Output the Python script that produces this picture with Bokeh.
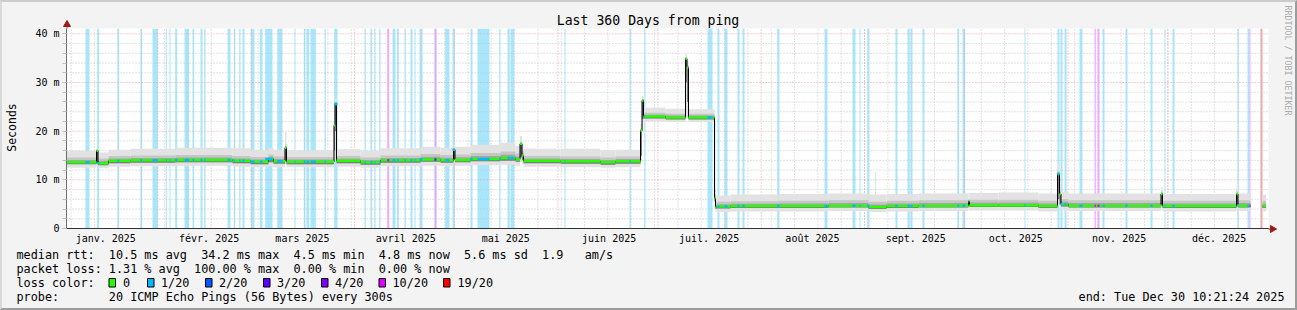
import numpy as np
from datetime import datetime, timedelta
from bokeh.plotting import figure
from bokeh.layouts import column
from bokeh.models import Range1d, FixedTicker, SingleIntervalTicker
from bokeh.core.properties import value
from bokeh.embed import file_html
from bokeh.resources import INLINE

# ---------------- data ----------------
END = datetime(2025, 12, 30, 10, 21, 24)
SPAN_DAYS = 360
START = END - timedelta(days=SPAN_DAYS)
GRAPH_TOP_MS = 41.1   # upper limit of the rrd graph area

# step segments of the median rtt (days since START), values in ms
seg_edge = [0.0, 9.15, 9.6, 12.75, 19.35, 32.85, 49.95, 55.35, 60.75, 62.25, 65.7, 66.15,
            80.4, 80.7, 81.15, 88.35, 94.35, 106.35, 112.35, 116.25, 116.7, 121.35, 130.35,
            134.85, 136.2, 136.8, 137.25, 148.35, 160.35, 164.85, 172.35, 172.8, 173.25,
            179.85, 185.85, 186.3, 186.75, 194.55, 194.85, 195.15, 199.35, 213.75, 228.75,
            240.75, 242.7, 243.0, 246.15, 255.75, 270.75, 271.05, 279.75, 291.75, 297.45,
            298.05, 298.5, 300.75, 328.5, 328.95, 351.15, 351.6, 355.35, 358.95, 360.0]
nan = float("nan")
median_ms = [13.6, 16.0, 13.4, 13.9, 14.0, 14.1, 13.9, 13.7, 14.3, 13.8, 16.6, 13.7,
             21.2, 25.6, 13.9, 13.6, 14.0, 14.2, 14.0, 16.2, 14.1, 14.3, 14.5, 14.2,
             17.4, 15.0, 13.9, 13.8, 13.6, 13.8, 20.1, 26.3, 23.0, 22.8, 34.9, 33.1,
             22.8, 6.2, 4.4, 4.5, 4.6, 4.6, 4.7, 4.4, 4.4, 4.4, 4.6, 4.7, 5.6, 4.8,
             4.8, 4.6, 11.2, 7.1, 5.0, 4.7, 7.1, 4.6, 7.1, 4.7, nan, 4.6]
smoke_lo_outer = [12.5, 12.8, 12.4, 12.7, 12.8, 12.9, 12.7, 12.6, 12.8, 12.6, 13.2, 12.6,
                  13.8, 14.0, 12.7, 12.5, 12.8, 12.9, 12.8, 13.4, 12.9, 13.0, 13.1, 12.9,
                  13.6, 13.2, 12.7, 12.6, 12.5, 12.6, 13.8, 20.0, 22.0, 21.9, 23.0, 22.8,
                  21.9, 4.8, 3.4, 3.4, 3.5, 3.5, 3.6, 3.4, 3.4, 3.4, 3.5, 3.6, 4.0, 3.7,
                  3.7, 3.5, 4.6, 4.5, 3.8, 3.6, 4.2, 3.5, 4.2, 3.6, nan, 3.5]
smoke_lo_inner = [13.2, 13.4, 13.0, 13.4, 13.5, 13.6, 13.4, 13.2, 13.6, 13.3, 14.0, 13.2,
                  16.0, 20.0, 13.4, 13.1, 13.5, 13.7, 13.5, 14.2, 13.6, 13.8, 13.9, 13.7,
                  14.6, 14.0, 13.4, 13.3, 13.1, 13.3, 15.0, 22.5, 22.6, 22.4, 30.0, 26.0,
                  22.4, 5.6, 4.0, 4.1, 4.2, 4.2, 4.3, 4.0, 4.0, 4.0, 4.2, 4.3, 4.8, 4.4,
                  4.4, 4.2, 6.0, 5.0, 4.5, 4.3, 5.0, 4.2, 5.0, 4.3, nan, 4.2]
smoke_hi_inner = [14.6, 16.0, 14.4, 14.9, 15.0, 15.1, 14.9, 14.7, 15.2, 14.8, 17.2, 14.7,
                  21.6, 26.0, 14.9, 14.6, 15.0, 15.3, 15.1, 16.6, 15.2, 15.5, 15.8, 15.4,
                  17.8, 16.0, 14.9, 14.8, 14.6, 14.8, 20.5, 26.6, 23.8, 23.6, 35.2, 33.6,
                  23.6, 8.0, 5.4, 5.5, 5.6, 5.7, 5.8, 5.5, 5.5, 5.5, 5.7, 5.8, 6.0, 5.9,
                  5.9, 5.7, 11.8, 7.8, 6.0, 5.8, 7.6, 5.7, 7.6, 5.8, nan, 5.7]
smoke_hi_outer = [16.0, 16.6, 15.6, 16.2, 16.4, 16.6, 16.5, 16.2, 16.6, 16.2, 19.8, 16.1,
                  22.4, 26.7, 16.3, 16.0, 16.5, 16.8, 16.6, 17.2, 16.8, 17.2, 17.6, 17.0,
                  19.0, 17.5, 16.4, 16.4, 16.1, 16.2, 21.5, 27.2, 24.8, 24.6, 35.9, 34.4,
                  24.5, 22.0, 6.6, 6.8, 7.0, 7.1, 7.2, 7.0, 11.6, 7.0, 7.1, 7.2, 7.4, 7.3,
                  7.4, 7.2, 13.4, 9.0, 7.5, 7.2, 8.5, 7.1, 8.3, 7.2, nan, 7.0]

# packet-loss periods (days since START) and their loss class
loss_start = [5.85, 9.36, 15.45, 22.35, 25.95, 29.94, 31.05, 32.76, 35.55, 37.95, 40.35, 41.46,
              48.45, 50.34, 51.96, 52.95, 55.44, 58.14, 59.76, 63.36, 68.55, 71.34, 72.15, 73.35,
              77.55, 80.46, 89.55, 91.35, 92.55, 93.96, 96.36, 97.95, 99.36, 101.55, 103.35,
              104.55, 106.05, 110.55, 113.76, 115.95, 121.35, 123.45, 129.96, 132.45, 133.35,
              149.55, 169.05, 173.46, 192.45, 195.45, 197.55, 201.45, 202.95, 213.36, 227.55,
              235.95, 238.05, 240.36, 248.85, 252.45, 253.35, 256.95, 267.45, 268.95, 287.55,
              297.45, 298.35, 299.55, 304.05, 308.55, 309.45, 310.95, 317.85, 325.35, 329.55,
              331.95, 351.45, 354.45, 355.05, 358.35]
loss_end = [7.05, 9.96, 15.96, 22.86, 27.54, 30.24, 31.35, 33.36, 36.96, 38.46, 40.95, 41.85,
            49.35, 50.76, 52.35, 53.55, 56.55, 58.95, 61.95, 64.95, 68.85, 71.85, 72.96, 74.94,
            77.94, 81.45, 89.94, 91.86, 92.85, 94.35, 96.96, 98.85, 99.84, 101.94, 103.95,
            104.85, 106.95, 111.15, 115.05, 116.64, 121.95, 127.05, 130.35, 133.14, 134.46,
            149.85, 169.44, 173.85, 193.95, 196.05, 198.45, 202.05, 203.55, 214.05, 228.45,
            236.85, 238.35, 241.05, 249.45, 253.14, 253.95, 257.55, 267.96, 269.76, 287.85,
            298.05, 298.95, 300.15, 304.95, 308.94, 310.05, 311.55, 318.45, 325.95, 329.85,
            332.55, 351.84, 355.05, 355.35, 358.95]
loss_cls = ["1/20"] * 30 + ["10/20"] + ["1/20"] * 6 + ["4/20"] + ["1/20"] * 31 + \
           ["10/20", "10/20"] + ["1/20"] * 6 + ["1/20", "10/20", "19/20"]

loss_names = ["0", "1/20", "2/20", "3/20", "4/20", "10/20", "19/20"]
loss_line_col = ["#26ff00", "#00b8ff", "#0059ff", "#5e00ff", "#7e00ff", "#dd00ff", "#ff0000"]
loss_bg_col = ["#c9ffbf", "#a8e6fb", "#aac6ff", "#c9aaff", "#d4aaff", "#f1a9ff", "#f6a3a3"]

month_names = ["janv. 2025", "févr. 2025", "mars 2025", "avril 2025", "mai 2025", "juin 2025",
               "juil. 2025", "août 2025", "sept. 2025", "oct. 2025", "nov. 2025", "déc. 2025"]
y_tick_vals = [0, 10, 20, 30, 40]
y_tick_text = ["0", "10 m", "20 m", "30 m", "40 m"]

title_text = "Last 360 Days from ping"
y_label = "Seconds"
watermark = "RRDTOOL / TOBI OETIKER"
stats_line1 = "median rtt:  10.5 ms avg  34.2 ms max  4.5 ms min  4.8 ms now  5.6 ms sd  1.9   am/s"
stats_line2 = "packet loss: 1.31 % avg  100.00 % max  0.00 % min  0.00 % now"
loss_line = "loss color:"
probe_line = "probe:       20 ICMP Echo Pings (56 Bytes) every 300s"
end_line = "end: Tue Dec 30 10:21:24 2025"

# ---------------- helpers ----------------
def day_of(dt):
    return (dt - START).total_seconds() / 86400.0

month_start = [day_of(datetime(2025, m, 1)) for m in range(1, 13)]
mondays = []
d = datetime(2025, 1, 6)
while d < END:
    mondays.append(day_of(d))
    d += timedelta(days=7)
label_pos = [ms + 15.37 for ms in month_start]

MONO = "DejaVu Sans Mono"
X0, X1 = 0.15, 360.75          # visible time span of the graph frame (days)

# ---------------- main chart ----------------
p = figure(width=1293, height=306, output_backend="svg", toolbar_location=None,
           x_range=Range1d(X0, X1), y_range=Range1d(0, GRAPH_TOP_MS),
           min_border_left=64, min_border_right=27, min_border_top=26, min_border_bottom=80)
p.frame_align = False
p.border_fill_color = "#f3f3f3"
p.background_fill_color = "white"
p.outline_line_color = None
p.xgrid.visible = False
p.ygrid.visible = False

# loss background bars
bg_map = dict(zip(loss_names, loss_bg_col))
ln_map = dict(zip(loss_names, loss_line_col))
r = p.quad(left=loss_start, right=loss_end, bottom=0, top=GRAPH_TOP_MS,
           fill_color=[bg_map[c] for c in loss_cls], line_color=None)
r.level = "underlay"

# grid lines (dotted, minor grey / major red)
GRAY = "#c4c4c4"
RED = "#eba0a0"
minor_y = [v for v in range(2, 42, 2) if v % 10 != 0]
major_y = [10, 20, 30, 40]
for ys, col in [(minor_y, GRAY), (major_y, RED)]:
    g = p.segment(x0=X0, x1=X1, y0=ys, y1=ys, line_color=col, line_dash="1 2", line_width=1)
    g.level = "underlay"
for xs, col in [(mondays, GRAY), (month_start[1:], RED)]:
    g = p.segment(x0=xs, x1=xs, y0=0, y1=GRAPH_TOP_MS, line_color=col, line_dash="1 2", line_width=1)
    g.level = "underlay"

# smoke
e = np.array(seg_edge)
med = np.array(median_ms)
lo_o, lo_i = np.array(smoke_lo_outer), np.array(smoke_lo_inner)
hi_i, hi_o = np.array(smoke_hi_inner), np.array(smoke_hi_outer)
p.quad(left=e[:-1], right=e[1:], bottom=lo_o, top=hi_o, fill_color="#e2e2e2", line_color=None)
p.quad(left=e[:-1], right=e[1:], bottom=lo_i, top=hi_i, fill_color="#c6c6c6", line_color=None)
p.quad(left=e[:-1], right=e[1:], bottom=med, top=med + (hi_i - med) * 0.5,
       fill_color="#a6a6a6", line_color=None)
p.quad(left=e[:-1], right=e[1:], bottom=lo_i, top=med, fill_color="#7c7c7c", line_color=None)

# median
p.step(x=e, y=np.append(med, med[-1]), mode="after", line_color="black", line_width=1)
p.segment(x0=e[:-1], x1=e[1:], y0=med, y1=med, line_color=loss_line_col[0], line_width=2.5)
mid = (np.array(loss_start) + np.array(loss_end)) / 2
idx = np.searchsorted(e, mid, side="right") - 1
lv = med[idx]
ok = ~np.isnan(lv)
p.segment(x0=np.array(loss_start)[ok], x1=np.array(loss_end)[ok], y0=lv[ok], y1=lv[ok],
          line_color=[ln_map[c] for c, k in zip(loss_cls, ok) if k], line_width=2.5)

# axes
ya = p.yaxis[0]
ya.ticker = SingleIntervalTicker(interval=10, num_minor_ticks=5)
ya.major_label_overrides = {v: t for v, t in zip(y_tick_vals, y_tick_text)}
ya.major_label_text_font = MONO
ya.major_label_text_font_size = "10px"
ya.major_label_text_color = "black"
ya.axis_line_color = "#6e6e6e"
ya.major_tick_line_color = "#e08a8a"
ya.major_tick_out = 4
ya.major_tick_in = 0
ya.minor_tick_line_color = "#c0c0c0"
ya.minor_tick_out = 4
ya.minor_tick_in = 0
ya.major_label_standoff = 3

xa = p.xaxis[0]
xa.ticker = FixedTicker(ticks=label_pos)
xa.major_label_overrides = {v: t for v, t in zip(label_pos, month_names)}
xa.major_label_text_font = MONO
xa.major_label_text_font_size = "10px"
xa.major_label_text_color = "black"
xa.axis_line_color = "#333333"
xa.major_tick_line_color = None
xa.minor_tick_line_color = None
xa.major_tick_out = 0
xa.major_tick_in = 0
xa.major_label_standoff = 4

# ---------------- text overlay (pixel space of the image) ----------------
q = figure(width=1293, height=306, output_backend="svg", toolbar_location=None,
           x_range=Range1d(2, 1295), y_range=Range1d(308, 2),
           x_axis_type=None, y_axis_type=None,
           min_border_left=0, min_border_right=0, min_border_top=0, min_border_bottom=0)
q.frame_align = False
q.background_fill_alpha = 0
q.border_fill_alpha = 0
q.outline_line_color = None
q.styles = {"position": "absolute", "top": "0px", "left": "0px"}

NBSP = "\u00a0"

def txt(x, y, s, size, align="left", color="black", angle=0.0):
    q.text(x=[x], y=[y], text=[s.replace(" ", NBSP)], text_font=value(MONO), text_font_size=size,
           text_align=align, text_baseline="middle", text_color=color, angle=angle)

txt(647.5, 20, title_text, "13.2px", align="center")
txt(11, 127, y_label, "11.5px", align="center", angle=np.pi / 2)
txt(1287, 5, watermark, "8.3px", color="#ababab", angle=-np.pi / 2)
txt(16, 254.2, stats_line1, "11.8px")
txt(16, 268.2, stats_line2, "11.8px")
txt(16, 282.2, loss_line, "11.8px")
txt(16, 296.2, probe_line, "11.8px")
txt(1284, 296.2, end_line, "11.8px", align="right")

box_x = np.array([108.5, 147, 205, 263, 321, 378.5, 443])
text_x = [122.5, 160.5, 218.5, 276.5, 334.5, 392, 457]
q.quad(left=box_x, right=box_x + 6.5, top=278, bottom=286.5,
       fill_color=loss_line_col, line_color="black", line_width=1)
for tx, name in zip(text_x, loss_names):
    txt(tx, 282.2, name, "11.8px")

# axis arrows and y-axis extension
q.segment(x0=[66.5], x1=[66.5], y0=[22], y1=[28], line_color="#6e6e6e", line_width=1)
q.segment(x0=[1268], x1=[1270], y0=[228.5], y1=[228.5], line_color="#333333", line_width=1)
q.scatter(x=[66.5], y=[24], marker="triangle", size=7, fill_color="#a01818", line_color="#a01818")
q.scatter(x=[1272], y=[228.5], marker="triangle", size=7, angle=-np.pi / 2,
          fill_color="#a01818", line_color="#a01818")

layout = column(p, q)
layout.styles = {"position": "relative", "border-style": "solid", "border-width": "2px",
                 "border-color": "#cbcbcb #9c9c9c #9c9c9c #d9d9d9", "background-color": "#f3f3f3"}

open("out.html", "w").write(file_html(layout, INLINE))
